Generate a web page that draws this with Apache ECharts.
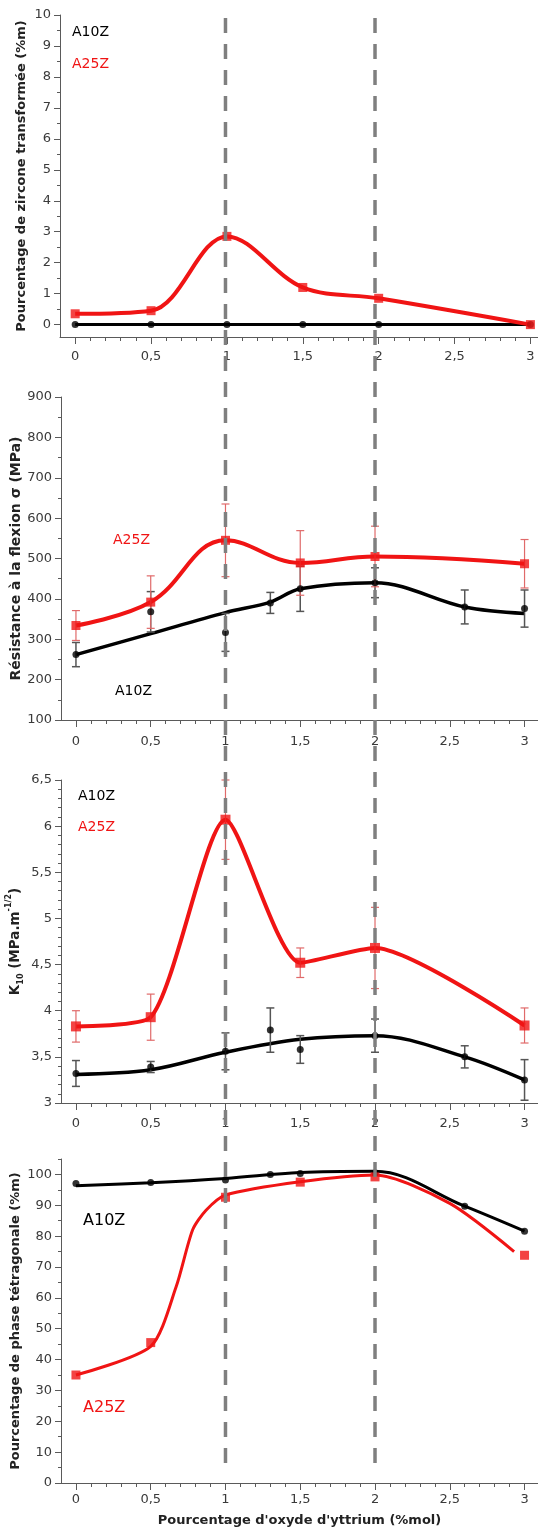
<!DOCTYPE html>
<html><head><meta charset="utf-8">
<script src="https://cdn.jsdelivr.net/npm/echarts@6/dist/echarts.min.js"></script>
<style>html,body{margin:0;padding:0;background:#fff}#c{width:538px;height:1531px}</style>
</head><body><div id="c"></div>
<script>
// ---------------- data ----------------
const X_LABELS = [0, 0.5, 1, 1.5, 2, 2.5, 3];
const DASH_X = [1, 2];
const SERIES_NAMES = ['A10Z', 'A25Z'];

// Panel 1 : Pourcentage de zircone transformée
const P1_X_A10 = [0, 0.5, 1, 1.5, 2, 3];
const P1_A10 = [0, 0, 0, 0, 0, 0];
const P1_X_A25 = [0, 0.5, 1, 1.5, 2, 3];
const P1_A25 = [0.35, 0.45, 2.85, 1.2, 0.85, 0.0];
const P1_Y_TICKS = [0, 1, 2, 3, 4, 5, 6, 7, 8, 9, 10];

// Panel 2 : Résistance à la flexion
const P2_X_A25 = [0, 0.5, 1, 1.5, 2, 3];
const P2_A25 = [334, 392, 545, 489, 505, 487];
const P2_A25_ERR = [37, 65, 90, 80, 75, 60];
const P2_X_A10 = [0, 0.5, 1, 1.3, 1.5, 2, 2.6, 3];
const P2_A10 = [262, 368, 317, 390, 425, 440, 380, 376];
const P2_A10_ERR = [30, 50, 47, 26, 56, 37, 42, 46];
const P2_FIT_X_A10 = [0, 0.5, 1, 1.3, 1.5, 2, 2.6, 3];
const P2_FIT_A10 = [262, 314, 366, 392, 425, 440, 380, 364];
const P2_Y_TICKS = [100, 200, 300, 400, 500, 600, 700, 800, 900];

// Panel 3 : K10
const P3_X_A25 = [0, 0.5, 1, 1.5, 2, 3];
const P3_A25 = [3.83, 3.93, 6.07, 4.52, 4.68, 3.84];
const P3_A25_ERR = [0.17, 0.25, 0.43, 0.16, 0.44, 0.19];
const P3_X_A10 = [0, 0.5, 1, 1.3, 1.5, 2, 2.6, 3];
const P3_A10 = [3.32, 3.39, 3.56, 3.79, 3.58, 3.73, 3.50, 3.25];
const P3_A10_ERR = [0.14, 0.06, 0.20, 0.24, 0.15, 0.18, 0.12, 0.22];
const P3_FIT_X_A10 = [0, 0.5, 1, 1.5, 2, 2.6, 3];
const P3_FIT_A10 = [3.31, 3.36, 3.55, 3.69, 3.73, 3.50, 3.25];
const P3_Y_TICKS = [3, 3.5, 4, 4.5, 5, 5.5, 6, 6.5];

// Panel 4 : Pourcentage de phase tétragonale
const P4_X_A25 = [0, 0.5, 1, 1.5, 2, 3];
const P4_A25 = [35, 45.5, 92.6, 97.5, 99.2, 73.8];
const P4_X_A10 = [0, 0.5, 1, 1.3, 1.5, 2, 2.6, 3];
const P4_A10 = [97.1, 97.4, 98.2, 100, 100.3, 100.5, 89.7, 81.6];
const P4_FIT_X_A25 = [0, 0.5, 0.67, 0.78, 0.87, 1, 1.5, 2, 2.5, 2.93];
const P4_FIT_A25 = [35, 44.3, 63.6, 82, 88.4, 93.3, 97.6, 99.8, 90.6, 75];
const P4_FIT_X_A10 = [0, 0.5, 1, 1.5, 2, 2.6, 3];
const P4_FIT_A10 = [96.3, 97.3, 98.7, 100.6, 101, 89.7, 81.6];
const P4_Y_TICKS = [0, 10, 20, 30, 40, 50, 60, 70, 80, 90, 100];

// ---------------- styling ----------------
const FONT = 'DejaVu Sans';
const AX = '#5a5a5a';
const TXT = '#3a3a3a';
const RED = '#f01414';
const BLACK = '#000000';
const RED_ERR = '#e06a6a';
const BLACK_ERR = '#555555';

const fmt = v => String(+v.toFixed(2)).replace('.', ',');
const zip = (xs, ys) => xs.map((x, i) => [x, ys[i]]);
function minorBetween(ticks, n) {
  const out = [];
  for (let i = 0; i < ticks.length - 1; i++) {
    for (let k = 1; k < n; k++) out.push(+(ticks[i] + (ticks[i + 1] - ticks[i]) * k / n).toFixed(4));
  }
  return out;
}
const X_MINOR = minorBetween(X_LABELS, 5);

const G = {right: 0, containLabel: false, outerBoundsMode: 'none'};
const grids = [
  Object.assign({left: 60, top: 15, height: 322}, G),
  Object.assign({left: 61, top: 397, height: 323}, G),
  Object.assign({left: 61, top: 780, height: 323}, G),
  Object.assign({left: 61, top: 1159, height: 324}, G),
  Object.assign({left: 61, top: 18, height: 1455}, G)
];

const xAxis = [], yAxis = [];
function addX(gi, max, margin, name) {
  const base = {type: 'value', gridIndex: gi, min: -0.1, max: max, position: 'bottom', splitLine: {show: false}};
  const main = Object.assign({}, base, {
    axisLine: {show: true, onZero: false, lineStyle: {color: AX, width: 1}},
    axisTick: {show: true, length: 7, customValues: X_LABELS, lineStyle: {color: AX}},
    axisLabel: {customValues: X_LABELS, formatter: fmt, margin: margin, color: TXT, fontSize: 13, fontFamily: FONT}
  });
  if (name) {
    Object.assign(main, {name: name, nameLocation: 'middle', nameGap: 31, nameMoveOverlap: false,
      nameTextStyle: {fontFamily: FONT, fontWeight: 'bold', fontSize: 13, color: '#222'}});
  }
  xAxis.push(main);
  const mi = xAxis.length - 1;
  xAxis.push(Object.assign({}, base, {
    axisLine: {show: false, onZero: false},
    axisTick: {show: true, length: 4, customValues: X_MINOR, lineStyle: {color: AX}},
    axisLabel: {show: false}
  }));
  return mi;
}
function addY(gi, min, max, ticks, minor, name, nameGap, nameSize, rich) {
  const base = {type: 'value', gridIndex: gi, min: min, max: max, position: 'left', splitLine: {show: false}};
  const main = Object.assign({}, base, {
    axisLine: {show: true, onZero: false, lineStyle: {color: AX, width: 1}},
    axisTick: {show: true, length: 6, customValues: ticks, lineStyle: {color: AX}},
    axisLabel: {customValues: ticks, formatter: fmt, margin: 9, color: TXT, fontSize: 13, fontFamily: FONT},
    name: name, nameLocation: 'middle', nameGap: nameGap, nameRotate: 90, nameMoveOverlap: false,
    nameTextStyle: Object.assign({fontFamily: FONT, fontWeight: 'bold', fontSize: nameSize, color: '#222'}, rich ? {rich: rich} : {})
  });
  yAxis.push(main);
  const mi = yAxis.length - 1;
  yAxis.push(Object.assign({}, base, {
    axisLine: {show: false, onZero: false},
    axisTick: {show: true, length: 3, customValues: minor, lineStyle: {color: AX}},
    axisLabel: {show: false}
  }));
  return mi;
}

const xi = [
  addX(0, 3.05, 13),
  addX(1, 3.09, 15),
  addX(2, 3.09, 14),
  addX(3, 3.09, 10, "Pourcentage d'oxyde d'yttrium (%mol)")
];
const yi = [
  addY(0, -0.4, 10, P1_Y_TICKS, minorBetween(P1_Y_TICKS, 2), 'Pourcentage de zircone transformée (%m)', 32, 13),
  addY(1, 100, 900, P2_Y_TICKS, minorBetween(P2_Y_TICKS, 2), 'Résistance à la flexion σ (MPa)', 38, 14),
  addY(2, 3, 6.5, P3_Y_TICKS, minorBetween(P3_Y_TICKS, 5),
    '{b|K}{s|10}{b| (MPa.m}{p|-1/2}{b|)}', 36, 13,
    {b: {fontFamily: FONT, fontWeight: 'bold', fontSize: 13.5, color: '#222', lineHeight: 20},
     s: {fontFamily: FONT, fontWeight: 'bold', fontSize: 8, color: '#222', verticalAlign: 'bottom'},
     p: {fontFamily: FONT, fontWeight: 'bold', fontSize: 8, color: '#222', verticalAlign: 'top'}}),
  addY(3, 0, 105, P4_Y_TICKS, minorBetween(P4_Y_TICKS.concat([110]), 2).filter(v => v <= 105), 'Pourcentage de phase tétragonale (%m)', 39, 13)
];
// overlay axes for dashed reference lines
xAxis.push({type: 'value', gridIndex: 4, min: -0.1, max: 3.09, show: false});
const xo = xAxis.length - 1;
yAxis.push({type: 'value', gridIndex: 4, min: 0, max: 1, show: false});
const yo = yAxis.length - 1;

const series = [];
function curve(p, xs, ys, color, width, smooth, name) {
  series.push({type: 'line', name: name, xAxisIndex: xi[p], yAxisIndex: yi[p], data: zip(xs, ys),
    smooth: smooth, symbol: 'none', lineStyle: {color: color, width: width}, z: 2, silent: true});
}
function points(p, xs, ys, color, symbol, size, name) {
  series.push({type: 'scatter', name: name, xAxisIndex: xi[p], yAxisIndex: yi[p], data: zip(xs, ys),
    symbol: symbol, symbolSize: size, itemStyle: {color: color}, z: 4, silent: true});
}
function errors(p, xs, ys, es, color, lw) {
  series.push({type: 'custom', xAxisIndex: xi[p], yAxisIndex: yi[p], z: 3, silent: true,
    data: xs.map((x, i) => [x, ys[i] - es[i], ys[i] + es[i]]),
    encode: {x: 0, y: [1, 2]},
    renderItem: function (params, api) {
      const lo = api.coord([api.value(0), api.value(1)]);
      const hi = api.coord([api.value(0), api.value(2)]);
      const w = 4;
      const st = {stroke: color, lineWidth: lw};
      return {type: 'group', children: [
        {type: 'line', shape: {x1: lo[0], y1: lo[1], x2: hi[0], y2: hi[1]}, style: st},
        {type: 'line', shape: {x1: lo[0] - w, y1: lo[1], x2: lo[0] + w, y2: lo[1]}, style: st},
        {type: 'line', shape: {x1: hi[0] - w, y1: hi[1], x2: hi[0] + w, y2: hi[1]}, style: st}
      ]};
    }});
}

// Panel 1
curve(0, P1_X_A10, P1_A10, BLACK, 3, false, SERIES_NAMES[0]);
points(0, P1_X_A10, P1_A10, BLACK, 'circle', 7, SERIES_NAMES[0]);
curve(0, P1_X_A25, P1_A25, RED, 4, 0.35, SERIES_NAMES[1]);
points(0, P1_X_A25, P1_A25, RED, 'rect', 9, SERIES_NAMES[1]);
// Panel 2
errors(1, P2_X_A10, P2_A10, P2_A10_ERR, BLACK_ERR, 1.5);
errors(1, P2_X_A25, P2_A25, P2_A25_ERR, RED_ERR, 1.2);
curve(1, P2_FIT_X_A10, P2_FIT_A10, BLACK, 3.5, 0.35, SERIES_NAMES[0]);
points(1, P2_X_A10, P2_A10, BLACK, 'circle', 7, SERIES_NAMES[0]);
curve(1, P2_X_A25, P2_A25, RED, 4, 0.4, SERIES_NAMES[1]);
points(1, P2_X_A25, P2_A25, RED, 'rect', 9, SERIES_NAMES[1]);
// Panel 3
errors(2, P3_X_A10, P3_A10, P3_A10_ERR, BLACK_ERR, 1.5);
errors(2, P3_X_A25, P3_A25, P3_A25_ERR, RED_ERR, 1.2);
curve(2, P3_FIT_X_A10, P3_FIT_A10, BLACK, 3.5, 0.35, SERIES_NAMES[0]);
points(2, P3_X_A10, P3_A10, BLACK, 'circle', 7, SERIES_NAMES[0]);
curve(2, P3_X_A25, P3_A25, RED, 4, 0.22, SERIES_NAMES[1]);
points(2, P3_X_A25, P3_A25, RED, 'rect', 10, SERIES_NAMES[1]);
// Panel 4
curve(3, P4_FIT_X_A10, P4_FIT_A10, BLACK, 3, 0.35, SERIES_NAMES[0]);
points(3, P4_X_A10, P4_A10, BLACK, 'circle', 7, SERIES_NAMES[0]);
curve(3, P4_FIT_X_A25, P4_FIT_A25, RED, 3, 0.25, SERIES_NAMES[1]);
points(3, P4_X_A25, P4_A25, RED, 'rect', 9, SERIES_NAMES[1]);
// dashed vertical reference lines across all panels (drawn top to bottom)
DASH_X.forEach(x => series.push({type: 'line', xAxisIndex: xo, yAxisIndex: yo, data: [[x, 1], [x, 0]],
  symbol: 'none', silent: true, z: 10, lineStyle: {color: '#7f7f7f', width: 3.5, type: [15, 11]}}));

function label(text, x, y, color, size) {
  return {type: 'text', left: x, top: y, z: 20, silent: true,
    style: {text: text, fill: color, font: size + 'px "' + FONT + '"'}};
}
const graphic = [
  label(SERIES_NAMES[0], 72, 25, BLACK, 14),
  label(SERIES_NAMES[1], 72, 57, RED, 14),
  label(SERIES_NAMES[1], 113, 533, RED, 14),
  label(SERIES_NAMES[0], 115, 684, BLACK, 14),
  label(SERIES_NAMES[0], 78, 789, BLACK, 14),
  label(SERIES_NAMES[1], 78, 820, RED, 14),
  label(SERIES_NAMES[0], 83, 1213, BLACK, 16),
  label(SERIES_NAMES[1], 83, 1400, RED, 16)
];

const chart = echarts.init(document.getElementById('c'), null, {renderer: 'canvas'});
chart.setOption({animation: false, backgroundColor: '#fff', grid: grids, xAxis: xAxis, yAxis: yAxis, series: series, graphic: graphic});
</script>
</body></html>
